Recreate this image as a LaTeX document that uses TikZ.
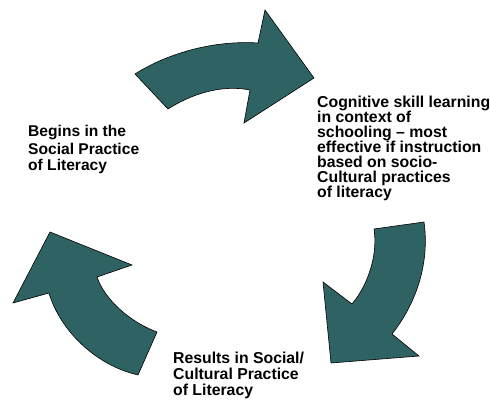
\documentclass[tikz,border=0pt]{standalone}
\usepackage{fontspec}
\setmainfont{Liberation Sans}
\definecolor{cycleteal}{RGB}{47,99,99}
\begin{document}
\begin{tikzpicture}[x=1pt,y=-1pt,
  cyclearrow/.style={fill=cycleteal,draw=black,line width=0.6pt},
  lbl/.style 2 args={anchor=base west,inner sep=0pt,align=left,font=\bfseries\fontsize{#1}{#2}\selectfont}]
\useasboundingbox (0,0) rectangle (490,401);
\draw[cyclearrow] (135,74) .. controls (165,55) and (210,40) .. (258,43) -- (265,10) -- (314,78) -- (244,123) -- (250,90) .. controls (220,84) and (190,95) .. (168,109) -- cycle;
\draw[cyclearrow] (374,229) -- (424,222) .. controls (430,265) and (415,305) .. (392,334) -- (419,356) -- (331,363) -- (323,282) -- (352,304) .. controls (368,285) and (378,255) .. (374,229) -- cycle;
\draw[cyclearrow] (157,332) .. controls (130,322) and (105,300) .. (97,277) -- (132,265) -- (50,232) -- (13,303) -- (49,293) .. controls (60,330) and (95,365) .. (138,375) -- cycle;
\node[lbl={15.6}{17}] (begins) at (28,171){Begins in the\\Social Practice\\of Literacy};
\node[lbl={15.8}{15}] (cognitive) at (317,197){Cognitive skill learning\\in context of\\schooling -- most\\effective if instruction\\based on socio-\\Cultural practices\\of literacy};
\node[lbl={15.8}{16}] (results) at (173,395){Results in Social/\\Cultural Practice\\of Literacy};
\end{tikzpicture}
\end{document}
